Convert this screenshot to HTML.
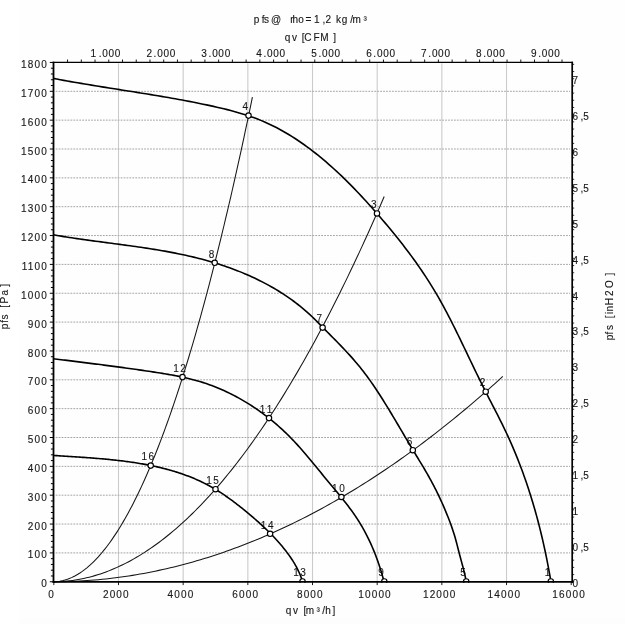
<!DOCTYPE html>
<html lang="en">
<head>
<meta charset="utf-8">
<title>Fan curve pfs / qv</title>
<style>
html,body{margin:0;padding:0;background:#fff;}
body{width:625px;height:624px;overflow:hidden;font-family:"Liberation Sans",Arial,sans-serif;}
svg{display:block;will-change:transform;}
text{white-space:pre;}
</style>
</head>
<body>
<svg width="625" height="624" viewBox="0 0 625 624" font-family="'Liberation Sans', Arial, sans-serif" fill="#1a1a1a">
<rect x="0" y="0" width="625" height="624" fill="#ffffff"/>
<rect x="18.9" y="0" width="606.1" height="618" fill="#fefefe"/>
<rect x="18.9" y="618" width="606.1" height="6" fill="#fdfdfd"/>
<g stroke="#cbcbcb" stroke-width="1.1" fill="none">
<line x1="118.50" y1="63.30" x2="118.50" y2="580.90"/>
<line x1="183.17" y1="63.30" x2="183.17" y2="580.90"/>
<line x1="247.84" y1="63.30" x2="247.84" y2="580.90"/>
<line x1="312.51" y1="63.30" x2="312.51" y2="580.90"/>
<line x1="377.18" y1="63.30" x2="377.18" y2="580.90"/>
<line x1="441.85" y1="63.30" x2="441.85" y2="580.90"/>
<line x1="506.52" y1="63.30" x2="506.52" y2="580.90"/>
</g>
<g stroke="#a4a4a4" stroke-width="1" fill="none" stroke-dasharray="1.8 1.15">
<line x1="55.70" y1="552.90" x2="570.00" y2="552.90"/>
<line x1="55.70" y1="524.05" x2="570.00" y2="524.05"/>
<line x1="55.70" y1="495.20" x2="570.00" y2="495.20"/>
<line x1="55.70" y1="466.35" x2="570.00" y2="466.35"/>
<line x1="55.70" y1="437.50" x2="570.00" y2="437.50"/>
<line x1="55.70" y1="408.65" x2="570.00" y2="408.65"/>
<line x1="55.70" y1="379.80" x2="570.00" y2="379.80"/>
<line x1="55.70" y1="350.95" x2="570.00" y2="350.95"/>
<line x1="55.70" y1="322.10" x2="570.00" y2="322.10"/>
<line x1="55.70" y1="293.25" x2="570.00" y2="293.25"/>
<line x1="55.70" y1="264.40" x2="570.00" y2="264.40"/>
<line x1="55.70" y1="235.55" x2="570.00" y2="235.55"/>
<line x1="55.70" y1="206.70" x2="570.00" y2="206.70"/>
<line x1="55.70" y1="177.85" x2="570.00" y2="177.85"/>
<line x1="55.70" y1="149.00" x2="570.00" y2="149.00"/>
<line x1="55.70" y1="120.15" x2="570.00" y2="120.15"/>
<line x1="55.70" y1="91.30" x2="570.00" y2="91.30"/>
</g>
<g stroke="#151515" stroke-width="1.05" fill="none" stroke-linecap="butt">
<path d="M53.10 581.75 L54.77 581.72 L56.45 581.61 L58.12 581.44 L59.80 581.20 L61.47 580.89 L63.15 580.52 L64.82 580.07 L66.50 579.56 L68.17 578.98 L69.85 578.33 L71.52 577.61 L73.20 576.82 L74.87 575.97 L76.55 575.04 L78.22 574.05 L79.90 572.99 L81.57 571.86 L83.25 570.66 L84.92 569.40 L86.60 568.06 L88.27 566.66 L89.95 565.19 L91.62 563.65 L93.29 562.04 L94.97 560.36 L96.64 558.62 L98.32 556.81 L99.99 554.92 L101.67 552.97 L103.34 550.95 L105.02 548.87 L106.69 546.71 L108.37 544.49 L110.04 542.19 L111.72 539.83 L113.39 537.40 L115.07 534.91 L116.74 532.34 L118.42 529.71 L120.09 527.00 L121.77 524.23 L123.44 521.39 L125.12 518.48 L126.79 515.51 L128.47 512.46 L130.14 509.35 L131.82 506.16 L133.49 502.91 L135.16 499.59 L136.84 496.21 L138.51 492.75 L140.19 489.23 L141.86 485.63 L143.54 481.97 L145.21 478.24 L146.89 474.44 L148.56 470.58 L150.24 466.64 L151.91 462.64 L153.59 458.57 L155.26 454.43 L156.94 450.22 L158.61 445.94 L160.29 441.60 L161.96 437.18 L163.64 432.70 L165.31 428.15 L166.99 423.53 L168.66 418.84 L170.34 414.09 L172.01 409.26 L173.68 404.37 L175.36 399.41 L177.03 394.38 L178.71 389.28 L180.38 384.11 L182.06 378.88 L183.73 373.57 L185.41 368.20 L187.08 362.76 L188.76 357.25 L190.43 351.67 L192.11 346.03 L193.78 340.31 L195.46 334.53 L197.13 328.68 L198.81 322.76 L200.48 316.77 L202.16 310.72 L203.83 304.59 L205.51 298.40 L207.18 292.14 L208.86 285.81 L210.53 279.41 L212.21 272.94 L213.88 266.40 L215.55 259.80 L217.23 253.13 L218.90 246.39 L220.58 239.58 L222.25 232.70 L223.93 225.75 L225.60 218.74 L227.28 211.66 L228.95 204.50 L230.63 197.29 L232.30 190.00 L233.98 182.64 L235.65 175.22 L237.33 167.72 L239.00 160.16 L240.68 152.53 L242.35 144.83 L244.03 137.06 L245.70 129.23 L247.38 121.32 L249.05 113.35 L250.73 105.31 L252.40 97.20"/>
<path d="M53.10 581.75 L55.88 581.72 L58.66 581.64 L61.45 581.51 L64.23 581.31 L67.01 581.07 L69.79 580.77 L72.58 580.42 L75.36 580.01 L78.14 579.55 L80.92 579.03 L83.71 578.46 L86.49 577.83 L89.27 577.15 L92.05 576.42 L94.84 575.63 L97.62 574.79 L100.40 573.89 L103.18 572.94 L105.96 571.93 L108.75 570.87 L111.53 569.75 L114.31 568.58 L117.09 567.36 L119.88 566.08 L122.66 564.75 L125.44 563.36 L128.22 561.92 L131.01 560.42 L133.79 558.87 L136.57 557.27 L139.35 555.61 L142.14 553.90 L144.92 552.13 L147.70 550.31 L150.48 548.43 L153.26 546.50 L156.05 544.51 L158.83 542.47 L161.61 540.38 L164.39 538.23 L167.18 536.03 L169.96 533.77 L172.74 531.46 L175.52 529.09 L178.31 526.67 L181.09 524.19 L183.87 521.66 L186.65 519.08 L189.44 516.44 L192.22 513.75 L195.00 511.00 L197.78 508.20 L200.56 505.34 L203.35 502.43 L206.13 499.47 L208.91 496.45 L211.69 493.38 L214.48 490.25 L217.26 487.07 L220.04 483.83 L222.82 480.54 L225.61 477.19 L228.39 473.79 L231.17 470.34 L233.95 466.83 L236.74 463.26 L239.52 459.65 L242.30 455.97 L245.08 452.25 L247.86 448.47 L250.65 444.63 L253.43 440.74 L256.21 436.80 L258.99 432.80 L261.78 428.75 L264.56 424.64 L267.34 420.48 L270.12 416.26 L272.91 411.99 L275.69 407.67 L278.47 403.29 L281.25 398.85 L284.04 394.37 L286.82 389.82 L289.60 385.23 L292.38 380.58 L295.16 375.87 L297.95 371.11 L300.73 366.29 L303.51 361.43 L306.29 356.50 L309.08 351.53 L311.86 346.49 L314.64 341.41 L317.42 336.27 L320.21 331.07 L322.99 325.82 L325.77 320.52 L328.55 315.16 L331.34 309.75 L334.12 304.28 L336.90 298.76 L339.68 293.18 L342.46 287.55 L345.25 281.86 L348.03 276.13 L350.81 270.33 L353.59 264.48 L356.38 258.58 L359.16 252.62 L361.94 246.61 L364.72 240.55 L367.51 234.43 L370.29 228.25 L373.07 222.02 L375.85 215.74 L378.64 209.40 L381.42 203.01 L384.20 196.56"/>
<path d="M53.10 581.75 L56.88 581.74 L60.66 581.69 L64.44 581.62 L68.22 581.52 L71.99 581.39 L75.77 581.23 L79.55 581.04 L83.33 580.82 L87.11 580.58 L90.89 580.30 L94.67 580.00 L98.45 579.66 L102.23 579.30 L106.01 578.91 L109.78 578.49 L113.56 578.04 L117.34 577.56 L121.12 577.05 L124.90 576.52 L128.68 575.95 L132.46 575.36 L136.24 574.73 L140.02 574.08 L143.80 573.40 L147.57 572.69 L151.35 571.95 L155.13 571.18 L158.91 570.38 L162.69 569.56 L166.47 568.70 L170.25 567.82 L174.03 566.91 L177.81 565.96 L181.59 564.99 L185.36 563.99 L189.14 562.96 L192.92 561.90 L196.70 560.82 L200.48 559.70 L204.26 558.56 L208.04 557.38 L211.82 556.18 L215.60 554.95 L219.38 553.68 L223.15 552.39 L226.93 551.08 L230.71 549.73 L234.49 548.35 L238.27 546.94 L242.05 545.51 L245.83 544.04 L249.61 542.55 L253.39 541.03 L257.17 539.48 L260.94 537.90 L264.72 536.29 L268.50 534.65 L272.28 532.98 L276.06 531.29 L279.84 529.56 L283.62 527.81 L287.40 526.03 L291.18 524.21 L294.96 522.37 L298.73 520.50 L302.51 518.60 L306.29 516.68 L310.07 514.72 L313.85 512.73 L317.63 510.72 L321.41 508.67 L325.19 506.60 L328.97 504.50 L332.75 502.37 L336.52 500.21 L340.30 498.02 L344.08 495.80 L347.86 493.55 L351.64 491.28 L355.42 488.97 L359.20 486.64 L362.98 484.28 L366.76 481.88 L370.54 479.46 L374.31 477.01 L378.09 474.53 L381.87 472.03 L385.65 469.49 L389.43 466.92 L393.21 464.33 L396.99 461.71 L400.77 459.05 L404.55 456.37 L408.33 453.66 L412.10 450.92 L415.88 448.15 L419.66 445.35 L423.44 442.53 L427.22 439.67 L431.00 436.79 L434.78 433.87 L438.56 430.93 L442.34 427.96 L446.12 424.96 L449.89 421.93 L453.67 418.87 L457.45 415.78 L461.23 412.66 L465.01 409.52 L468.79 406.34 L472.57 403.14 L476.35 399.91 L480.13 396.65 L483.91 393.35 L487.68 390.03 L491.46 386.69 L495.24 383.31 L499.02 379.90 L502.80 376.47"/>
</g>
<g font-size="10px" fill="#161616" stroke="#161616" stroke-width="0.1">
<text transform="translate(0 576.15) scale(1 1.0)" x="544.80" y="0">1</text>
<text transform="translate(0 386.40) scale(1 1.0)" x="479.70" y="0">2</text>
<text transform="translate(0 208.10) scale(1 1.0)" x="371.00" y="0">3</text>
<text transform="translate(0 110.30) scale(1 1.0)" x="242.50" y="0">4</text>
<text transform="translate(0 576.15) scale(1 1.0)" x="460.20" y="0">5</text>
<text transform="translate(0 444.90) scale(1 1.0)" x="406.80" y="0">6</text>
<text transform="translate(0 322.30) scale(1 1.0)" x="316.60" y="0">7</text>
<text transform="translate(0 257.50) scale(1 1.0)" x="208.70" y="0">8</text>
<text transform="translate(0 576.15) scale(1 1.0)" x="378.30" y="0">9</text>
<text transform="translate(0 491.70) scale(1 1.0)" x="332.10 339.20" y="0">10</text>
<text transform="translate(0 412.80) scale(1 1.0)" x="259.70 266.80" y="0">11</text>
<text transform="translate(0 371.80) scale(1 1.0)" x="173.20 180.30" y="0">12</text>
<text transform="translate(0 576.15) scale(1 1.0)" x="293.20 300.30" y="0">13</text>
<text transform="translate(0 528.50) scale(1 1.0)" x="260.80 267.90" y="0">14</text>
<text transform="translate(0 483.90) scale(1 1.0)" x="206.20 213.30" y="0">15</text>
<text transform="translate(0 460.30) scale(1 1.0)" x="141.40 148.50" y="0">16</text>
</g>
<g stroke="#000" stroke-width="1.6" fill="none" stroke-linejoin="round">
<path d="M53.30 78.40 L56.78 79.05 L60.25 79.70 L63.73 80.34 L67.21 80.97 L70.69 81.59 L74.17 82.20 L77.65 82.81 L81.13 83.40 L84.62 83.99 L88.10 84.57 L91.59 85.15 L95.07 85.72 L98.56 86.29 L102.05 86.85 L105.53 87.41 L109.02 87.96 L112.51 88.52 L116.00 89.07 L119.49 89.62 L122.98 90.17 L126.47 90.72 L129.96 91.27 L133.45 91.83 L136.94 92.38 L140.42 92.94 L143.91 93.50 L147.40 94.07 L150.89 94.64 L154.37 95.21 L157.86 95.79 L161.34 96.38 L164.83 96.97 L168.31 97.58 L171.79 98.19 L175.27 98.81 L178.75 99.44 L182.23 100.08 L185.71 100.73 L189.18 101.39 L192.66 102.06 L196.13 102.75 L199.60 103.45 L203.07 104.16 L206.53 104.89 L210.00 105.63 L213.46 106.39 L216.92 107.17 L220.37 107.97 L223.82 108.80 L227.26 109.65 L230.69 110.53 L234.11 111.45 L237.51 112.41 L240.90 113.40 L244.28 114.44 L247.63 115.52 L250.97 116.66 L254.29 117.84 L257.58 119.09 L260.85 120.38 L264.10 121.75 L267.32 123.17 L270.51 124.66 L273.68 126.20 L276.82 127.81 L279.93 129.47 L283.02 131.18 L286.08 132.95 L289.11 134.77 L292.12 136.63 L295.09 138.54 L298.05 140.49 L300.97 142.48 L303.87 144.52 L306.74 146.59 L309.59 148.69 L312.41 150.83 L315.20 153.00 L317.96 155.20 L320.70 157.43 L323.42 159.68 L326.11 161.97 L328.77 164.28 L331.42 166.61 L334.04 168.98 L336.64 171.36 L339.22 173.77 L341.78 176.20 L344.31 178.65 L346.83 181.13 L349.33 183.62 L351.82 186.13 L354.28 188.66 L356.73 191.21 L359.16 193.78 L361.58 196.36 L363.98 198.95 L366.37 201.56 L368.75 204.19 L371.11 206.82 L373.46 209.47 L375.80 212.13 L378.13 214.79 L380.45 217.47 L382.75 220.16 L385.05 222.86 L387.33 225.57 L389.60 228.28 L391.85 231.01 L394.09 233.76 L396.32 236.51 L398.53 239.27 L400.72 242.05 L402.90 244.84 L405.05 247.64 L407.19 250.45 L409.32 253.28 L411.42 256.12 L413.50 258.97 L415.56 261.84 L417.60 264.72 L419.62 267.62 L421.62 270.53 L423.59 273.46 L425.54 276.40 L427.47 279.35 L429.37 282.33 L431.24 285.31 L433.09 288.32 L434.91 291.34 L436.71 294.38 L438.47 297.43 L440.22 300.50 L441.93 303.58 L443.63 306.68 L445.30 309.79 L446.96 312.91 L448.59 316.04 L450.21 319.19 L451.81 322.34 L453.40 325.50 L454.98 328.66 L456.54 331.84 L458.10 335.01 L459.65 338.20 L461.19 341.38 L462.72 344.57 L464.25 347.76 L465.78 350.95 L467.31 354.14 L468.84 357.33 L470.36 360.52 L471.89 363.70 L473.43 366.88 L474.96 370.07 L476.50 373.24 L478.05 376.42 L479.60 379.59 L481.17 382.76 L482.74 385.92 L484.32 389.08 L485.91 392.23 L487.51 395.38 L489.12 398.52 L490.74 401.66 L492.35 404.80 L493.97 407.94 L495.59 411.08 L497.19 414.22 L498.79 417.37 L500.38 420.52 L501.95 423.68 L503.50 426.85 L505.04 430.03 L506.55 433.22 L508.03 436.42 L509.49 439.63 L510.93 442.86 L512.34 446.09 L513.72 449.34 L515.09 452.59 L516.42 455.86 L517.74 459.14 L519.03 462.43 L520.30 465.72 L521.54 469.03 L522.76 472.34 L523.96 475.67 L525.14 479.00 L526.29 482.34 L527.43 485.69 L528.54 489.05 L529.63 492.41 L530.69 495.78 L531.74 499.16 L532.76 502.55 L533.77 505.94 L534.75 509.34 L535.71 512.74 L536.65 516.15 L537.58 519.57 L538.48 522.99 L539.36 526.41 L540.22 529.84 L541.06 533.28 L541.89 536.72 L542.69 540.16 L543.48 543.61 L544.24 547.06 L544.99 550.51 L545.72 553.97 L546.43 557.43 L547.13 560.89 L547.80 564.36 L548.46 567.82 L549.10 571.29 L549.73 574.76 L550.34 578.23 L550.80 581.75"/>
<path d="M53.30 234.80 L55.93 235.27 L58.57 235.72 L61.22 236.16 L63.86 236.59 L66.51 237.01 L69.16 237.42 L71.81 237.83 L74.46 238.23 L77.12 238.62 L79.77 239.00 L82.43 239.38 L85.09 239.75 L87.75 240.12 L90.41 240.49 L93.07 240.85 L95.73 241.20 L98.39 241.56 L101.06 241.91 L103.72 242.26 L106.38 242.62 L109.05 242.97 L111.71 243.32 L114.37 243.67 L117.04 244.02 L119.70 244.37 L122.36 244.73 L125.02 245.09 L127.68 245.45 L130.34 245.82 L133.00 246.19 L135.66 246.56 L138.32 246.94 L140.97 247.33 L143.63 247.72 L146.28 248.12 L148.93 248.53 L151.58 248.95 L154.23 249.37 L156.87 249.80 L159.51 250.25 L162.16 250.70 L164.79 251.16 L167.43 251.64 L170.06 252.13 L172.69 252.63 L175.32 253.14 L177.95 253.66 L180.57 254.20 L183.19 254.76 L185.80 255.33 L188.42 255.91 L191.03 256.51 L193.63 257.13 L196.23 257.76 L198.83 258.41 L201.42 259.08 L204.01 259.77 L206.60 260.48 L209.18 261.21 L211.75 261.96 L214.33 262.72 L216.89 263.51 L219.45 264.33 L222.01 265.16 L224.56 266.01 L227.10 266.89 L229.64 267.79 L232.17 268.71 L234.69 269.66 L237.20 270.63 L239.71 271.62 L242.20 272.63 L244.68 273.67 L247.16 274.73 L249.62 275.82 L252.07 276.93 L254.51 278.06 L256.94 279.22 L259.35 280.41 L261.75 281.62 L264.14 282.85 L266.51 284.11 L268.87 285.39 L271.21 286.70 L273.54 288.04 L275.85 289.40 L278.14 290.79 L280.41 292.21 L282.67 293.65 L284.91 295.12 L287.13 296.61 L289.33 298.13 L291.52 299.69 L293.68 301.26 L295.82 302.87 L297.94 304.50 L300.04 306.17 L302.11 307.86 L304.17 309.58 L306.20 311.33 L308.20 313.10 L310.19 314.91 L312.14 316.75 L314.08 318.61 L315.99 320.50 L317.89 322.41 L319.78 324.33 L321.66 326.25 L323.54 328.17 L325.43 330.09 L327.32 332.00 L329.21 333.91 L331.11 335.81 L332.99 337.72 L334.88 339.63 L336.76 341.54 L338.63 343.46 L340.50 345.39 L342.36 347.32 L344.20 349.26 L346.03 351.21 L347.85 353.18 L349.65 355.15 L351.44 357.14 L353.21 359.15 L354.96 361.17 L356.70 363.21 L358.41 365.26 L360.10 367.33 L361.78 369.42 L363.43 371.53 L365.05 373.66 L366.66 375.80 L368.24 377.97 L369.81 380.14 L371.36 382.34 L372.89 384.54 L374.40 386.76 L375.90 388.99 L377.38 391.23 L378.85 393.48 L380.31 395.74 L381.75 398.01 L383.18 400.28 L384.60 402.56 L386.02 404.85 L387.42 407.14 L388.82 409.43 L390.20 411.72 L391.59 414.02 L392.96 416.32 L394.34 418.62 L395.70 420.92 L397.07 423.23 L398.43 425.53 L399.79 427.84 L401.15 430.15 L402.51 432.46 L403.87 434.76 L405.23 437.07 L406.60 439.37 L407.96 441.68 L409.33 443.98 L410.71 446.28 L412.09 448.58 L413.47 450.88 L414.86 453.18 L416.25 455.47 L417.65 457.76 L419.04 460.06 L420.43 462.35 L421.82 464.65 L423.20 466.95 L424.57 469.26 L425.92 471.58 L427.27 473.90 L428.60 476.23 L429.90 478.56 L431.19 480.91 L432.46 483.27 L433.71 485.64 L434.94 488.02 L436.14 490.41 L437.33 492.81 L438.49 495.22 L439.64 497.64 L440.76 500.06 L441.87 502.50 L442.96 504.95 L444.02 507.40 L445.07 509.87 L446.10 512.34 L447.11 514.83 L448.11 517.32 L449.08 519.82 L450.04 522.33 L450.97 524.84 L451.87 527.37 L452.74 529.91 L453.58 532.45 L454.38 535.01 L455.14 537.58 L455.86 540.16 L456.55 542.74 L457.22 545.34 L457.88 547.93 L458.54 550.53 L459.20 553.12 L459.89 555.71 L460.58 558.30 L461.28 560.89 L461.98 563.47 L462.68 566.06 L463.35 568.66 L464.01 571.26 L464.64 573.86 L465.23 576.48 L465.78 579.10 L466.20 581.75"/>
<path d="M53.30 358.70 L55.26 358.94 L57.22 359.18 L59.17 359.43 L61.13 359.67 L63.08 359.92 L65.04 360.16 L66.99 360.41 L68.94 360.65 L70.89 360.90 L72.84 361.14 L74.79 361.38 L76.74 361.63 L78.69 361.87 L80.64 362.12 L82.59 362.36 L84.53 362.61 L86.48 362.85 L88.43 363.10 L90.37 363.34 L92.32 363.59 L94.26 363.84 L96.21 364.09 L98.15 364.33 L100.10 364.58 L102.04 364.83 L103.98 365.09 L105.93 365.34 L107.87 365.59 L109.81 365.85 L111.76 366.10 L113.70 366.36 L115.64 366.62 L117.58 366.88 L119.53 367.14 L121.47 367.40 L123.41 367.66 L125.35 367.93 L127.30 368.20 L129.24 368.47 L131.18 368.74 L133.13 369.01 L135.07 369.28 L137.01 369.56 L138.96 369.84 L140.90 370.12 L142.84 370.40 L144.79 370.68 L146.73 370.97 L148.68 371.26 L150.62 371.55 L152.57 371.85 L154.51 372.14 L156.46 372.44 L158.40 372.74 L160.35 373.05 L162.29 373.37 L164.24 373.69 L166.18 374.01 L168.12 374.34 L170.06 374.69 L172.00 375.04 L173.94 375.39 L175.87 375.76 L177.80 376.14 L179.73 376.54 L181.65 376.94 L183.57 377.36 L185.49 377.79 L187.40 378.23 L189.31 378.69 L191.21 379.17 L193.11 379.66 L195.01 380.17 L196.90 380.69 L198.78 381.24 L200.66 381.80 L202.53 382.38 L204.39 382.99 L206.25 383.61 L208.10 384.25 L209.95 384.91 L211.79 385.59 L213.62 386.28 L215.45 387.00 L217.27 387.73 L219.08 388.48 L220.88 389.25 L222.68 390.04 L224.47 390.85 L226.25 391.67 L228.03 392.51 L229.79 393.36 L231.55 394.24 L233.30 395.13 L235.04 396.04 L236.78 396.96 L238.50 397.90 L240.22 398.86 L241.93 399.83 L243.63 400.82 L245.32 401.82 L247.00 402.84 L248.68 403.87 L250.34 404.92 L252.00 405.99 L253.64 407.07 L255.28 408.16 L256.90 409.27 L258.52 410.39 L260.13 411.53 L261.72 412.68 L263.31 413.85 L264.89 415.03 L266.45 416.22 L268.01 417.43 L269.55 418.65 L271.09 419.88 L272.61 421.13 L274.12 422.39 L275.62 423.66 L277.11 424.94 L278.59 426.24 L280.06 427.55 L281.52 428.87 L282.96 430.20 L284.40 431.55 L285.82 432.90 L287.23 434.27 L288.62 435.65 L290.01 437.04 L291.38 438.44 L292.74 439.85 L294.09 441.27 L295.43 442.70 L296.76 444.15 L298.08 445.59 L299.39 447.05 L300.69 448.52 L301.99 449.99 L303.27 451.47 L304.55 452.95 L305.83 454.44 L307.09 455.94 L308.36 457.44 L309.62 458.94 L310.87 460.45 L312.12 461.97 L313.37 463.48 L314.61 465.00 L315.86 466.52 L317.10 468.04 L318.34 469.56 L319.59 471.09 L320.83 472.61 L322.07 474.13 L323.32 475.65 L324.56 477.17 L325.81 478.69 L327.07 480.21 L328.32 481.72 L329.58 483.24 L330.85 484.75 L332.11 486.26 L333.37 487.77 L334.63 489.28 L335.89 490.79 L337.15 492.30 L338.40 493.82 L339.65 495.34 L340.89 496.86 L342.13 498.39 L343.36 499.92 L344.58 501.45 L345.79 502.99 L347.00 504.54 L348.19 506.10 L349.37 507.66 L350.54 509.23 L351.70 510.81 L352.84 512.40 L353.96 514.00 L355.07 515.61 L356.17 517.23 L357.24 518.86 L358.30 520.50 L359.34 522.16 L360.35 523.83 L361.36 525.51 L362.34 527.20 L363.31 528.90 L364.25 530.61 L365.18 532.34 L366.10 534.07 L366.99 535.81 L367.87 537.57 L368.73 539.33 L369.57 541.10 L370.40 542.88 L371.21 544.67 L372.00 546.47 L372.78 548.27 L373.54 550.08 L374.28 551.91 L375.01 553.73 L375.72 555.57 L376.42 557.41 L377.10 559.26 L377.76 561.11 L378.41 562.98 L379.04 564.84 L379.66 566.71 L380.26 568.59 L380.85 570.47 L381.43 572.36 L381.99 574.25 L382.53 576.15 L383.06 578.05 L383.57 579.95 L384.30 581.75"/>
<path d="M53.30 455.40 L54.63 455.49 L55.94 455.58 L57.24 455.67 L58.55 455.76 L59.87 455.84 L61.18 455.93 L62.50 456.02 L63.82 456.10 L65.14 456.19 L66.47 456.27 L67.79 456.36 L69.12 456.44 L70.46 456.53 L71.79 456.62 L73.13 456.70 L74.46 456.79 L75.80 456.88 L77.14 456.97 L78.49 457.06 L79.83 457.15 L81.18 457.24 L82.52 457.33 L83.87 457.42 L85.22 457.52 L86.58 457.62 L87.93 457.71 L89.28 457.81 L90.64 457.91 L91.99 458.02 L93.35 458.12 L94.71 458.23 L96.07 458.34 L97.43 458.45 L98.79 458.56 L100.15 458.68 L101.51 458.79 L102.87 458.91 L104.24 459.04 L105.60 459.16 L106.96 459.29 L108.33 459.42 L109.69 459.56 L111.05 459.69 L112.42 459.83 L113.78 459.98 L115.15 460.12 L116.51 460.27 L117.87 460.43 L119.24 460.59 L120.60 460.75 L121.96 460.91 L123.32 461.08 L124.69 461.25 L126.05 461.43 L127.41 461.61 L128.77 461.80 L130.13 461.99 L131.48 462.18 L132.84 462.38 L134.20 462.58 L135.55 462.79 L136.90 463.01 L138.26 463.22 L139.61 463.45 L140.96 463.68 L142.31 463.91 L143.65 464.15 L145.00 464.39 L146.34 464.64 L147.68 464.90 L149.03 465.16 L150.36 465.43 L151.70 465.70 L153.04 465.98 L154.37 466.26 L155.70 466.55 L157.03 466.85 L158.35 467.15 L159.68 467.46 L161.00 467.78 L162.32 468.10 L163.64 468.43 L164.95 468.77 L166.26 469.11 L167.57 469.46 L168.88 469.82 L170.18 470.19 L171.48 470.56 L172.78 470.94 L174.07 471.32 L175.37 471.72 L176.66 472.12 L177.94 472.53 L179.22 472.95 L180.50 473.38 L181.78 473.81 L183.05 474.25 L184.32 474.70 L185.58 475.16 L186.84 475.63 L188.10 476.10 L189.35 476.59 L190.60 477.08 L191.85 477.58 L193.09 478.09 L194.33 478.61 L195.56 479.14 L196.79 479.67 L198.02 480.22 L199.24 480.78 L200.46 481.34 L201.67 481.92 L202.88 482.50 L204.08 483.10 L205.28 483.70 L206.47 484.32 L207.66 484.94 L208.84 485.57 L210.02 486.22 L211.20 486.87 L212.37 487.54 L213.53 488.21 L214.69 488.90 L215.85 489.59 L217.00 490.29 L218.14 491.00 L219.28 491.72 L220.42 492.45 L221.55 493.19 L222.68 493.94 L223.81 494.69 L224.93 495.45 L226.04 496.22 L227.16 496.99 L228.26 497.78 L229.37 498.57 L230.47 499.36 L231.57 500.16 L232.66 500.97 L233.75 501.79 L234.84 502.61 L235.92 503.43 L237.00 504.26 L238.08 505.10 L239.15 505.94 L240.22 506.79 L241.29 507.64 L242.35 508.49 L243.42 509.35 L244.47 510.21 L245.53 511.08 L246.58 511.95 L247.64 512.82 L248.68 513.69 L249.73 514.57 L250.77 515.45 L251.81 516.34 L252.85 517.23 L253.88 518.12 L254.91 519.01 L255.94 519.91 L256.96 520.81 L257.98 521.72 L259.00 522.63 L260.01 523.54 L261.02 524.46 L262.02 525.38 L263.02 526.30 L264.01 527.23 L265.00 528.17 L265.98 529.10 L266.95 530.05 L267.92 531.00 L268.89 531.95 L269.85 532.90 L270.80 533.87 L271.75 534.83 L272.69 535.81 L273.63 536.78 L274.55 537.77 L275.47 538.75 L276.39 539.75 L277.29 540.75 L278.19 541.75 L279.09 542.76 L279.97 543.78 L280.85 544.80 L281.72 545.83 L282.58 546.86 L283.43 547.90 L284.27 548.95 L285.11 550.00 L285.93 551.06 L286.75 552.12 L287.55 553.20 L288.35 554.28 L289.13 555.36 L289.91 556.46 L290.67 557.56 L291.42 558.68 L292.15 559.80 L292.88 560.93 L293.59 562.06 L294.28 563.21 L294.96 564.37 L295.62 565.54 L296.27 566.72 L296.90 567.91 L297.51 569.11 L298.11 570.32 L298.68 571.54 L299.24 572.77 L299.77 574.02 L300.29 575.28 L300.79 576.55 L301.26 577.83 L301.71 579.13 L302.14 580.44 L302.50 581.75"/>
</g>
<g stroke="#000" stroke-width="1.15" fill="#fff">
<circle cx="550.80" cy="581.45" r="2.7"/>
<circle cx="485.70" cy="391.70" r="2.7"/>
<circle cx="377.00" cy="213.40" r="2.7"/>
<circle cx="248.50" cy="115.60" r="2.7"/>
<circle cx="466.20" cy="581.45" r="2.7"/>
<circle cx="412.80" cy="450.20" r="2.7"/>
<circle cx="322.60" cy="327.60" r="2.7"/>
<circle cx="214.70" cy="262.80" r="2.7"/>
<circle cx="384.30" cy="581.45" r="2.7"/>
<circle cx="341.40" cy="497.00" r="2.7"/>
<circle cx="269.00" cy="418.10" r="2.7"/>
<circle cx="182.50" cy="377.10" r="2.7"/>
<circle cx="302.50" cy="581.45" r="2.7"/>
<circle cx="270.10" cy="533.80" r="2.7"/>
<circle cx="215.50" cy="489.20" r="2.7"/>
<circle cx="150.70" cy="465.60" r="2.7"/>
</g>
<rect x="55.50" y="582.80" width="516.70" height="4.2" fill="#fefefe"/>
<g stroke="#000" fill="none">
<line x1="53.50" y1="61.70" x2="53.50" y2="582.90" stroke-width="1.8"/>
<line x1="572.20" y1="61.70" x2="572.20" y2="582.90" stroke-width="1.7"/>
<line x1="52.60" y1="62.30" x2="573.05" y2="62.30" stroke-width="1.3"/>
<line x1="52.60" y1="581.90" x2="573.05" y2="581.90" stroke-width="1.75"/>
</g>
<g stroke="#000" stroke-width="1" fill="none">
<line x1="49.80" y1="581.75" x2="53.50" y2="581.75"/>
<line x1="50.90" y1="575.98" x2="53.50" y2="575.98"/>
<line x1="50.90" y1="570.21" x2="53.50" y2="570.21"/>
<line x1="50.90" y1="564.44" x2="53.50" y2="564.44"/>
<line x1="50.90" y1="558.67" x2="53.50" y2="558.67"/>
<line x1="49.80" y1="552.90" x2="53.50" y2="552.90"/>
<line x1="50.90" y1="547.13" x2="53.50" y2="547.13"/>
<line x1="50.90" y1="541.36" x2="53.50" y2="541.36"/>
<line x1="50.90" y1="535.59" x2="53.50" y2="535.59"/>
<line x1="50.90" y1="529.82" x2="53.50" y2="529.82"/>
<line x1="49.80" y1="524.05" x2="53.50" y2="524.05"/>
<line x1="50.90" y1="518.28" x2="53.50" y2="518.28"/>
<line x1="50.90" y1="512.51" x2="53.50" y2="512.51"/>
<line x1="50.90" y1="506.74" x2="53.50" y2="506.74"/>
<line x1="50.90" y1="500.97" x2="53.50" y2="500.97"/>
<line x1="49.80" y1="495.20" x2="53.50" y2="495.20"/>
<line x1="50.90" y1="489.43" x2="53.50" y2="489.43"/>
<line x1="50.90" y1="483.66" x2="53.50" y2="483.66"/>
<line x1="50.90" y1="477.89" x2="53.50" y2="477.89"/>
<line x1="50.90" y1="472.12" x2="53.50" y2="472.12"/>
<line x1="49.80" y1="466.35" x2="53.50" y2="466.35"/>
<line x1="50.90" y1="460.58" x2="53.50" y2="460.58"/>
<line x1="50.90" y1="454.81" x2="53.50" y2="454.81"/>
<line x1="50.90" y1="449.04" x2="53.50" y2="449.04"/>
<line x1="50.90" y1="443.27" x2="53.50" y2="443.27"/>
<line x1="49.80" y1="437.50" x2="53.50" y2="437.50"/>
<line x1="50.90" y1="431.73" x2="53.50" y2="431.73"/>
<line x1="50.90" y1="425.96" x2="53.50" y2="425.96"/>
<line x1="50.90" y1="420.19" x2="53.50" y2="420.19"/>
<line x1="50.90" y1="414.42" x2="53.50" y2="414.42"/>
<line x1="49.80" y1="408.65" x2="53.50" y2="408.65"/>
<line x1="50.90" y1="402.88" x2="53.50" y2="402.88"/>
<line x1="50.90" y1="397.11" x2="53.50" y2="397.11"/>
<line x1="50.90" y1="391.34" x2="53.50" y2="391.34"/>
<line x1="50.90" y1="385.57" x2="53.50" y2="385.57"/>
<line x1="49.80" y1="379.80" x2="53.50" y2="379.80"/>
<line x1="50.90" y1="374.03" x2="53.50" y2="374.03"/>
<line x1="50.90" y1="368.26" x2="53.50" y2="368.26"/>
<line x1="50.90" y1="362.49" x2="53.50" y2="362.49"/>
<line x1="50.90" y1="356.72" x2="53.50" y2="356.72"/>
<line x1="49.80" y1="350.95" x2="53.50" y2="350.95"/>
<line x1="50.90" y1="345.18" x2="53.50" y2="345.18"/>
<line x1="50.90" y1="339.41" x2="53.50" y2="339.41"/>
<line x1="50.90" y1="333.64" x2="53.50" y2="333.64"/>
<line x1="50.90" y1="327.87" x2="53.50" y2="327.87"/>
<line x1="49.80" y1="322.10" x2="53.50" y2="322.10"/>
<line x1="50.90" y1="316.33" x2="53.50" y2="316.33"/>
<line x1="50.90" y1="310.56" x2="53.50" y2="310.56"/>
<line x1="50.90" y1="304.79" x2="53.50" y2="304.79"/>
<line x1="50.90" y1="299.02" x2="53.50" y2="299.02"/>
<line x1="49.80" y1="293.25" x2="53.50" y2="293.25"/>
<line x1="50.90" y1="287.48" x2="53.50" y2="287.48"/>
<line x1="50.90" y1="281.71" x2="53.50" y2="281.71"/>
<line x1="50.90" y1="275.94" x2="53.50" y2="275.94"/>
<line x1="50.90" y1="270.17" x2="53.50" y2="270.17"/>
<line x1="49.80" y1="264.40" x2="53.50" y2="264.40"/>
<line x1="50.90" y1="258.63" x2="53.50" y2="258.63"/>
<line x1="50.90" y1="252.86" x2="53.50" y2="252.86"/>
<line x1="50.90" y1="247.09" x2="53.50" y2="247.09"/>
<line x1="50.90" y1="241.32" x2="53.50" y2="241.32"/>
<line x1="49.80" y1="235.55" x2="53.50" y2="235.55"/>
<line x1="50.90" y1="229.78" x2="53.50" y2="229.78"/>
<line x1="50.90" y1="224.01" x2="53.50" y2="224.01"/>
<line x1="50.90" y1="218.24" x2="53.50" y2="218.24"/>
<line x1="50.90" y1="212.47" x2="53.50" y2="212.47"/>
<line x1="49.80" y1="206.70" x2="53.50" y2="206.70"/>
<line x1="50.90" y1="200.93" x2="53.50" y2="200.93"/>
<line x1="50.90" y1="195.16" x2="53.50" y2="195.16"/>
<line x1="50.90" y1="189.39" x2="53.50" y2="189.39"/>
<line x1="50.90" y1="183.62" x2="53.50" y2="183.62"/>
<line x1="49.80" y1="177.85" x2="53.50" y2="177.85"/>
<line x1="50.90" y1="172.08" x2="53.50" y2="172.08"/>
<line x1="50.90" y1="166.31" x2="53.50" y2="166.31"/>
<line x1="50.90" y1="160.54" x2="53.50" y2="160.54"/>
<line x1="50.90" y1="154.77" x2="53.50" y2="154.77"/>
<line x1="49.80" y1="149.00" x2="53.50" y2="149.00"/>
<line x1="50.90" y1="143.23" x2="53.50" y2="143.23"/>
<line x1="50.90" y1="137.46" x2="53.50" y2="137.46"/>
<line x1="50.90" y1="131.69" x2="53.50" y2="131.69"/>
<line x1="50.90" y1="125.92" x2="53.50" y2="125.92"/>
<line x1="49.80" y1="120.15" x2="53.50" y2="120.15"/>
<line x1="50.90" y1="114.38" x2="53.50" y2="114.38"/>
<line x1="50.90" y1="108.61" x2="53.50" y2="108.61"/>
<line x1="50.90" y1="102.84" x2="53.50" y2="102.84"/>
<line x1="50.90" y1="97.07" x2="53.50" y2="97.07"/>
<line x1="49.80" y1="91.30" x2="53.50" y2="91.30"/>
<line x1="50.90" y1="85.53" x2="53.50" y2="85.53"/>
<line x1="50.90" y1="79.76" x2="53.50" y2="79.76"/>
<line x1="50.90" y1="73.99" x2="53.50" y2="73.99"/>
<line x1="50.90" y1="68.22" x2="53.50" y2="68.22"/>
<line x1="49.80" y1="62.45" x2="53.50" y2="62.45"/>
<line x1="67.56" y1="59.50" x2="67.56" y2="62.30" stroke-width="0.9"/>
<line x1="81.30" y1="59.50" x2="81.30" y2="62.30" stroke-width="0.9"/>
<line x1="95.03" y1="59.50" x2="95.03" y2="62.30" stroke-width="0.9"/>
<line x1="108.77" y1="59.50" x2="108.77" y2="62.30" stroke-width="0.9"/>
<line x1="122.50" y1="59.50" x2="122.50" y2="62.30" stroke-width="0.9"/>
<line x1="136.24" y1="59.50" x2="136.24" y2="62.30" stroke-width="0.9"/>
<line x1="149.97" y1="59.50" x2="149.97" y2="62.30" stroke-width="0.9"/>
<line x1="163.71" y1="59.50" x2="163.71" y2="62.30" stroke-width="0.9"/>
<line x1="177.44" y1="59.50" x2="177.44" y2="62.30" stroke-width="0.9"/>
<line x1="191.17" y1="59.50" x2="191.17" y2="62.30" stroke-width="0.9"/>
<line x1="204.91" y1="59.50" x2="204.91" y2="62.30" stroke-width="0.9"/>
<line x1="218.64" y1="59.50" x2="218.64" y2="62.30" stroke-width="0.9"/>
<line x1="232.38" y1="59.50" x2="232.38" y2="62.30" stroke-width="0.9"/>
<line x1="246.11" y1="59.50" x2="246.11" y2="62.30" stroke-width="0.9"/>
<line x1="259.85" y1="59.50" x2="259.85" y2="62.30" stroke-width="0.9"/>
<line x1="273.58" y1="59.50" x2="273.58" y2="62.30" stroke-width="0.9"/>
<line x1="287.31" y1="59.50" x2="287.31" y2="62.30" stroke-width="0.9"/>
<line x1="301.05" y1="59.50" x2="301.05" y2="62.30" stroke-width="0.9"/>
<line x1="314.78" y1="59.50" x2="314.78" y2="62.30" stroke-width="0.9"/>
<line x1="328.52" y1="59.50" x2="328.52" y2="62.30" stroke-width="0.9"/>
<line x1="342.25" y1="59.50" x2="342.25" y2="62.30" stroke-width="0.9"/>
<line x1="355.99" y1="59.50" x2="355.99" y2="62.30" stroke-width="0.9"/>
<line x1="369.72" y1="59.50" x2="369.72" y2="62.30" stroke-width="0.9"/>
<line x1="383.46" y1="59.50" x2="383.46" y2="62.30" stroke-width="0.9"/>
<line x1="397.19" y1="59.50" x2="397.19" y2="62.30" stroke-width="0.9"/>
<line x1="410.92" y1="59.50" x2="410.92" y2="62.30" stroke-width="0.9"/>
<line x1="424.66" y1="59.50" x2="424.66" y2="62.30" stroke-width="0.9"/>
<line x1="438.39" y1="59.50" x2="438.39" y2="62.30" stroke-width="0.9"/>
<line x1="452.13" y1="59.50" x2="452.13" y2="62.30" stroke-width="0.9"/>
<line x1="465.86" y1="59.50" x2="465.86" y2="62.30" stroke-width="0.9"/>
<line x1="479.60" y1="59.50" x2="479.60" y2="62.30" stroke-width="0.9"/>
<line x1="493.33" y1="59.50" x2="493.33" y2="62.30" stroke-width="0.9"/>
<line x1="507.06" y1="59.50" x2="507.06" y2="62.30" stroke-width="0.9"/>
<line x1="520.80" y1="59.50" x2="520.80" y2="62.30" stroke-width="0.9"/>
<line x1="534.53" y1="59.50" x2="534.53" y2="62.30" stroke-width="0.9"/>
<line x1="548.27" y1="59.50" x2="548.27" y2="62.30" stroke-width="0.9"/>
<line x1="562.00" y1="59.50" x2="562.00" y2="62.30" stroke-width="0.9"/>
<line x1="572.20" y1="581.75" x2="574.20" y2="581.75" stroke-width="0.8"/>
<line x1="572.20" y1="574.56" x2="574.20" y2="574.56" stroke-width="0.8"/>
<line x1="572.20" y1="567.38" x2="574.20" y2="567.38" stroke-width="0.8"/>
<line x1="572.20" y1="560.19" x2="574.20" y2="560.19" stroke-width="0.8"/>
<line x1="572.20" y1="553.01" x2="574.20" y2="553.01" stroke-width="0.8"/>
<line x1="572.20" y1="545.82" x2="574.20" y2="545.82" stroke-width="0.8"/>
<line x1="572.20" y1="538.63" x2="574.20" y2="538.63" stroke-width="0.8"/>
<line x1="572.20" y1="531.45" x2="574.20" y2="531.45" stroke-width="0.8"/>
<line x1="572.20" y1="524.26" x2="574.20" y2="524.26" stroke-width="0.8"/>
<line x1="572.20" y1="517.07" x2="574.20" y2="517.07" stroke-width="0.8"/>
<line x1="572.20" y1="509.89" x2="574.20" y2="509.89" stroke-width="0.8"/>
<line x1="572.20" y1="502.70" x2="574.20" y2="502.70" stroke-width="0.8"/>
<line x1="572.20" y1="495.52" x2="574.20" y2="495.52" stroke-width="0.8"/>
<line x1="572.20" y1="488.33" x2="574.20" y2="488.33" stroke-width="0.8"/>
<line x1="572.20" y1="481.14" x2="574.20" y2="481.14" stroke-width="0.8"/>
<line x1="572.20" y1="473.96" x2="574.20" y2="473.96" stroke-width="0.8"/>
<line x1="572.20" y1="466.77" x2="574.20" y2="466.77" stroke-width="0.8"/>
<line x1="572.20" y1="459.58" x2="574.20" y2="459.58" stroke-width="0.8"/>
<line x1="572.20" y1="452.40" x2="574.20" y2="452.40" stroke-width="0.8"/>
<line x1="572.20" y1="445.21" x2="574.20" y2="445.21" stroke-width="0.8"/>
<line x1="572.20" y1="438.03" x2="574.20" y2="438.03" stroke-width="0.8"/>
<line x1="572.20" y1="430.84" x2="574.20" y2="430.84" stroke-width="0.8"/>
<line x1="572.20" y1="423.65" x2="574.20" y2="423.65" stroke-width="0.8"/>
<line x1="572.20" y1="416.47" x2="574.20" y2="416.47" stroke-width="0.8"/>
<line x1="572.20" y1="409.28" x2="574.20" y2="409.28" stroke-width="0.8"/>
<line x1="572.20" y1="402.09" x2="574.20" y2="402.09" stroke-width="0.8"/>
<line x1="572.20" y1="394.91" x2="574.20" y2="394.91" stroke-width="0.8"/>
<line x1="572.20" y1="387.72" x2="574.20" y2="387.72" stroke-width="0.8"/>
<line x1="572.20" y1="380.54" x2="574.20" y2="380.54" stroke-width="0.8"/>
<line x1="572.20" y1="373.35" x2="574.20" y2="373.35" stroke-width="0.8"/>
<line x1="572.20" y1="366.16" x2="574.20" y2="366.16" stroke-width="0.8"/>
<line x1="572.20" y1="358.98" x2="574.20" y2="358.98" stroke-width="0.8"/>
<line x1="572.20" y1="351.79" x2="574.20" y2="351.79" stroke-width="0.8"/>
<line x1="572.20" y1="344.60" x2="574.20" y2="344.60" stroke-width="0.8"/>
<line x1="572.20" y1="337.42" x2="574.20" y2="337.42" stroke-width="0.8"/>
<line x1="572.20" y1="330.23" x2="574.20" y2="330.23" stroke-width="0.8"/>
<line x1="572.20" y1="323.05" x2="574.20" y2="323.05" stroke-width="0.8"/>
<line x1="572.20" y1="315.86" x2="574.20" y2="315.86" stroke-width="0.8"/>
<line x1="572.20" y1="308.67" x2="574.20" y2="308.67" stroke-width="0.8"/>
<line x1="572.20" y1="301.49" x2="574.20" y2="301.49" stroke-width="0.8"/>
<line x1="572.20" y1="294.30" x2="574.20" y2="294.30" stroke-width="0.8"/>
<line x1="572.20" y1="287.12" x2="574.20" y2="287.12" stroke-width="0.8"/>
<line x1="572.20" y1="279.93" x2="574.20" y2="279.93" stroke-width="0.8"/>
<line x1="572.20" y1="272.74" x2="574.20" y2="272.74" stroke-width="0.8"/>
<line x1="572.20" y1="265.56" x2="574.20" y2="265.56" stroke-width="0.8"/>
<line x1="572.20" y1="258.37" x2="574.20" y2="258.37" stroke-width="0.8"/>
<line x1="572.20" y1="251.18" x2="574.20" y2="251.18" stroke-width="0.8"/>
<line x1="572.20" y1="244.00" x2="574.20" y2="244.00" stroke-width="0.8"/>
<line x1="572.20" y1="236.81" x2="574.20" y2="236.81" stroke-width="0.8"/>
<line x1="572.20" y1="229.63" x2="574.20" y2="229.63" stroke-width="0.8"/>
<line x1="572.20" y1="222.44" x2="574.20" y2="222.44" stroke-width="0.8"/>
<line x1="572.20" y1="215.25" x2="574.20" y2="215.25" stroke-width="0.8"/>
<line x1="572.20" y1="208.07" x2="574.20" y2="208.07" stroke-width="0.8"/>
<line x1="572.20" y1="200.88" x2="574.20" y2="200.88" stroke-width="0.8"/>
<line x1="572.20" y1="193.69" x2="574.20" y2="193.69" stroke-width="0.8"/>
<line x1="572.20" y1="186.51" x2="574.20" y2="186.51" stroke-width="0.8"/>
<line x1="572.20" y1="179.32" x2="574.20" y2="179.32" stroke-width="0.8"/>
<line x1="572.20" y1="172.14" x2="574.20" y2="172.14" stroke-width="0.8"/>
<line x1="572.20" y1="164.95" x2="574.20" y2="164.95" stroke-width="0.8"/>
<line x1="572.20" y1="157.76" x2="574.20" y2="157.76" stroke-width="0.8"/>
<line x1="572.20" y1="150.58" x2="574.20" y2="150.58" stroke-width="0.8"/>
<line x1="572.20" y1="143.39" x2="574.20" y2="143.39" stroke-width="0.8"/>
<line x1="572.20" y1="136.20" x2="574.20" y2="136.20" stroke-width="0.8"/>
<line x1="572.20" y1="129.02" x2="574.20" y2="129.02" stroke-width="0.8"/>
<line x1="572.20" y1="121.83" x2="574.20" y2="121.83" stroke-width="0.8"/>
<line x1="572.20" y1="114.65" x2="574.20" y2="114.65" stroke-width="0.8"/>
<line x1="572.20" y1="107.46" x2="574.20" y2="107.46" stroke-width="0.8"/>
<line x1="572.20" y1="100.27" x2="574.20" y2="100.27" stroke-width="0.8"/>
<line x1="572.20" y1="93.09" x2="574.20" y2="93.09" stroke-width="0.8"/>
<line x1="572.20" y1="85.90" x2="574.20" y2="85.90" stroke-width="0.8"/>
<line x1="572.20" y1="78.71" x2="574.20" y2="78.71" stroke-width="0.8"/>
<line x1="572.20" y1="71.53" x2="574.20" y2="71.53" stroke-width="0.8"/>
<line x1="572.20" y1="64.34" x2="574.20" y2="64.34" stroke-width="0.8"/>
<line x1="53.83" y1="581.90" x2="53.83" y2="585.10" stroke-width="0.9"/>
<line x1="118.50" y1="581.90" x2="118.50" y2="585.10" stroke-width="0.9"/>
<line x1="183.17" y1="581.90" x2="183.17" y2="585.10" stroke-width="0.9"/>
<line x1="247.84" y1="581.90" x2="247.84" y2="585.10" stroke-width="0.9"/>
<line x1="312.51" y1="581.90" x2="312.51" y2="585.10" stroke-width="0.9"/>
<line x1="377.18" y1="581.90" x2="377.18" y2="585.10" stroke-width="0.9"/>
<line x1="441.85" y1="581.90" x2="441.85" y2="585.10" stroke-width="0.9"/>
<line x1="506.52" y1="581.90" x2="506.52" y2="585.10" stroke-width="0.9"/>
<line x1="571.19" y1="581.90" x2="571.19" y2="585.10" stroke-width="0.9"/>
</g>
<g font-size="10px" fill="#1a1a1a" stroke="#1a1a1a" stroke-width="0.14">
<text transform="translate(0 587.00) scale(1 1.0)" x="47.92" y="0" text-anchor="end" letter-spacing="1.15">0</text>
<text transform="translate(0 558.00) scale(1 1.0)" x="47.92" y="0" text-anchor="end" letter-spacing="1.15">100</text>
<text transform="translate(0 530.00) scale(1 1.0)" x="47.92" y="0" text-anchor="end" letter-spacing="1.15">200</text>
<text transform="translate(0 501.00) scale(1 1.0)" x="47.92" y="0" text-anchor="end" letter-spacing="1.15">300</text>
<text transform="translate(0 472.00) scale(1 1.0)" x="47.92" y="0" text-anchor="end" letter-spacing="1.15">400</text>
<text transform="translate(0 443.00) scale(1 1.0)" x="47.92" y="0" text-anchor="end" letter-spacing="1.15">500</text>
<text transform="translate(0 414.00) scale(1 1.0)" x="47.92" y="0" text-anchor="end" letter-spacing="1.15">600</text>
<text transform="translate(0 385.00) scale(1 1.0)" x="47.92" y="0" text-anchor="end" letter-spacing="1.15">700</text>
<text transform="translate(0 357.00) scale(1 1.0)" x="47.92" y="0" text-anchor="end" letter-spacing="1.15">800</text>
<text transform="translate(0 328.00) scale(1 1.0)" x="47.92" y="0" text-anchor="end" letter-spacing="1.15">900</text>
<text transform="translate(0 299.00) scale(1 1.0)" x="47.92" y="0" text-anchor="end" letter-spacing="1.15">1000</text>
<text transform="translate(0 270.00) scale(1 1.0)" x="47.92" y="0" text-anchor="end" letter-spacing="1.15">1100</text>
<text transform="translate(0 241.00) scale(1 1.0)" x="47.92" y="0" text-anchor="end" letter-spacing="1.15">1200</text>
<text transform="translate(0 212.00) scale(1 1.0)" x="47.92" y="0" text-anchor="end" letter-spacing="1.15">1300</text>
<text transform="translate(0 183.00) scale(1 1.0)" x="47.92" y="0" text-anchor="end" letter-spacing="1.15">1400</text>
<text transform="translate(0 155.00) scale(1 1.0)" x="47.92" y="0" text-anchor="end" letter-spacing="1.15">1500</text>
<text transform="translate(0 126.00) scale(1 1.0)" x="47.92" y="0" text-anchor="end" letter-spacing="1.15">1600</text>
<text transform="translate(0 97.00) scale(1 1.0)" x="47.92" y="0" text-anchor="end" letter-spacing="1.15">1700</text>
<text transform="translate(0 68.00) scale(1 1.0)" x="47.92" y="0" text-anchor="end" letter-spacing="1.15">1800</text>
<text transform="translate(0 597.90) scale(1 1.0)" x="51.70" y="0" text-anchor="middle" letter-spacing="1.15">0</text>
<text transform="translate(0 597.90) scale(1 1.0)" x="116.38" y="0" text-anchor="middle" letter-spacing="1.15">2000</text>
<text transform="translate(0 597.90) scale(1 1.0)" x="181.05" y="0" text-anchor="middle" letter-spacing="1.15">4000</text>
<text transform="translate(0 597.90) scale(1 1.0)" x="245.72" y="0" text-anchor="middle" letter-spacing="1.15">6000</text>
<text transform="translate(0 597.90) scale(1 1.0)" x="310.38" y="0" text-anchor="middle" letter-spacing="1.15">8000</text>
<text transform="translate(0 597.90) scale(1 1.0)" x="375.06" y="0" text-anchor="middle" letter-spacing="1.15">10000</text>
<text transform="translate(0 597.90) scale(1 1.0)" x="439.73" y="0" text-anchor="middle" letter-spacing="1.15">12000</text>
<text transform="translate(0 597.90) scale(1 1.0)" x="504.40" y="0" text-anchor="middle" letter-spacing="1.15">14000</text>
<text transform="translate(0 597.90) scale(1 1.0)" x="569.07" y="0" text-anchor="middle" letter-spacing="1.15">16000</text>
</g>
<g font-size="10px" fill="#161616" stroke="#161616" stroke-width="0.12">
<text transform="translate(0 56.50) scale(1 1.0)" x="90.47 98.67 102.27 108.47 114.77" y="0">1.000</text>
<text transform="translate(0 56.50) scale(1 1.0)" x="146.41 153.61 157.21 163.41 169.71" y="0">2.000</text>
<text transform="translate(0 56.50) scale(1 1.0)" x="201.34 208.54 212.14 218.34 224.64" y="0">3.000</text>
<text transform="translate(0 56.50) scale(1 1.0)" x="256.28 263.48 267.08 273.28 279.58" y="0">4.000</text>
<text transform="translate(0 56.50) scale(1 1.0)" x="311.22 318.42 322.02 328.22 334.52" y="0">5.000</text>
<text transform="translate(0 56.50) scale(1 1.0)" x="366.16 373.36 376.96 383.16 389.46" y="0">6.000</text>
<text transform="translate(0 56.50) scale(1 1.0)" x="421.09 428.29 431.89 438.09 444.39" y="0">7.000</text>
<text transform="translate(0 56.50) scale(1 1.0)" x="476.03 483.23 486.83 493.03 499.33" y="0">8.000</text>
<text transform="translate(0 56.50) scale(1 1.0)" x="530.97 538.17 541.77 547.97 554.27" y="0">9.000</text>
<text transform="translate(0 586.95) scale(1 1.0)" x="572.40" y="0">0</text>
<text transform="translate(0 551.02) scale(1 1.0)" x="572.40 580.50 583.20" y="0">0,5</text>
<text transform="translate(0 515.09) scale(1 1.0)" x="572.40" y="0">1</text>
<text transform="translate(0 479.16) scale(1 1.0)" x="572.40 580.50 583.20" y="0">1,5</text>
<text transform="translate(0 443.23) scale(1 1.0)" x="572.40" y="0">2</text>
<text transform="translate(0 407.29) scale(1 1.0)" x="572.40 580.50 583.20" y="0">2,5</text>
<text transform="translate(0 371.36) scale(1 1.0)" x="572.40" y="0">3</text>
<text transform="translate(0 335.43) scale(1 1.0)" x="572.40 580.50 583.20" y="0">3,5</text>
<text transform="translate(0 299.50) scale(1 1.0)" x="572.40" y="0">4</text>
<text transform="translate(0 263.57) scale(1 1.0)" x="572.40 580.50 583.20" y="0">4,5</text>
<text transform="translate(0 227.64) scale(1 1.0)" x="572.40" y="0">5</text>
<text transform="translate(0 191.71) scale(1 1.0)" x="572.40 580.50 583.20" y="0">5,5</text>
<text transform="translate(0 155.78) scale(1 1.0)" x="572.40" y="0">6</text>
<text transform="translate(0 119.85) scale(1 1.0)" x="572.40 580.50 583.20" y="0">6,5</text>
<text transform="translate(0 83.91) scale(1 1.0)" x="572.40" y="0">7</text>
<text transform="translate(0 22.80) scale(1 1.0)" x="253.70 261.70 264.00 268.80 271.00 283.00 290.20 292.40 298.20 305.50 314.10 322.60 325.40 331.00 336.10 341.70 350.30 352.40 363.50" y="0">pfs @ rho=1,2 kg/m³</text>
<text transform="translate(0 40.50) scale(1 1.0)" x="284.70 292.00 297.50 301.80 304.20 313.50 320.20 329.00 333.30" y="0">qv [CFM ]</text>
<g transform="translate(613.0 340.3) rotate(-90)"><text transform="translate(0 0.00) scale(1 1.0)" x="0.00 5.90 10.20 16.50 22.00 26.40 28.80 35.00 44.40 52.40 64.70" y="0">pfs [inH2O]</text></g>
</g>
<g font-size="10px" fill="#1a1a1a" stroke="#1a1a1a" stroke-width="0.14">
<text transform="translate(0 614.00) scale(1 1.0)" x="285.80 292.90 299.00 303.60 305.70 316.60 322.30 325.30 332.40" y="0">qv [m³/h]</text>
<g transform="translate(7.8 329.2) rotate(-90)"><text transform="translate(0 0.00) scale(1 1.0)" x="0.00 6.50 9.80 15.50 21.40 25.70 33.60 42.50" y="0">pfs [Pa]</text></g>
</g>
</svg>
</body>
</html>
